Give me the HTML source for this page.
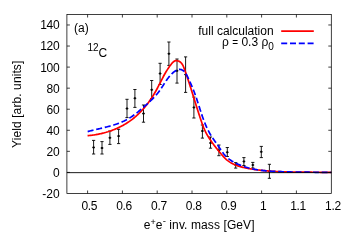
<!DOCTYPE html>
<html><head><meta charset="utf-8"><title>plot</title>
<style>html,body{margin:0;padding:0;background:#fff}body{width:350px;height:245px;position:relative;overflow:hidden;font-family:"Liberation Sans",sans-serif}</style>
</head><body>
<svg width="350" height="245" viewBox="0 0 350 245" style="position:absolute;left:0;top:0;will-change:transform;font-family:'Liberation Sans',sans-serif;font-size:12px" fill="#000">
<path d="M93.6 140.4V154M92.00 140.4h3.2M92.00 154h3.2M92.20 147.4h2.8M102 141.6V154M100.40 141.6h3.2M100.40 154h3.2M100.60 148h2.8M109.9 131V144.4M108.30 131h3.2M108.30 144.4h3.2M108.50 137.8h2.8M118.6 129.3V143.6M117.00 129.3h3.2M117.00 143.6h3.2M117.20 136.1h2.8M127.0 99.3V117.6M125.40 99.3h3.2M125.40 117.6h3.2M125.60 108.6h2.8M134.9 89.5V107.4M133.30 89.5h3.2M133.30 107.4h3.2M133.50 98.3h2.8M143.5 105V122.2M141.90 105h3.2M141.90 122.2h3.2M142.10 113.6h2.8M151.7 80.5V98.6M150.10 80.5h3.2M150.10 98.6h3.2M150.30 89.8h2.8M160.1 63.3V84.5M158.50 63.3h3.2M158.50 84.5h3.2M158.70 73.6h2.8M168.9 42V65.4M167.30 42h3.2M167.30 65.4h3.2M167.50 53.7h2.8M177.0 59.0V83.1M175.40 59.0h3.2M175.40 83.1h3.2M175.60 70.8h2.8M185.6 56.9V92.4M184.00 56.9h3.2M184.00 92.4h3.2M184.20 74.5h2.8M193.9 97.1V118M192.30 97.1h3.2M192.30 118h3.2M192.50 107.4h2.8M202.4 125V138.1M200.80 125h3.2M200.80 138.1h3.2M201.00 131h2.8M210.5 137V148.2M208.90 137h3.2M208.90 148.2h3.2M209.10 143h2.8M218.9 145V155.7M217.30 145h3.2M217.30 155.7h3.2M217.50 150.3h2.8M227.3 147.5V156.5M225.70 147.5h3.2M225.70 156.5h3.2M225.90 152.3h2.8M235.7 162.6V168.1M234.10 162.6h3.2M234.10 168.1h3.2M234.30 165h2.8M243.9 157.6V165.5M242.30 157.6h3.2M242.30 165.5h3.2M242.50 161.4h2.8M252.8 162.4V168M251.20 162.4h3.2M251.20 168h3.2M251.40 165h2.8M261.3 146.4V157.6M259.70 146.4h3.2M259.70 157.6h3.2M259.90 151.8h2.8M269.4 164.3V178.3M267.80 164.3h3.2M267.80 178.3h3.2M268.00 171.4h2.8" stroke="#000" stroke-width="0.9" fill="none"/>
<path d="M93.6 146.40v2.0M102 147.00v2.0M109.9 136.80v2.0M118.6 135.10v2.0M127.0 107.60v2.0M134.9 97.30v2.0M143.5 112.60v2.0M151.7 88.80v2.0M160.1 72.60v2.0M168.9 52.70v2.0M177.0 69.80v2.0M185.6 73.50v2.0M193.9 106.40v2.0M202.4 130.00v2.0M210.5 142.00v2.0M218.9 149.30v2.0M227.3 151.30v2.0M235.7 164.00v2.0M243.9 160.40v2.0M252.8 164.00v2.0M261.3 150.80v2.0M269.4 170.40v2.0" stroke="#000" stroke-width="1.6" fill="none"/>
<path d="M87.56 135.67 L88.42 135.60 L89.28 135.52 L90.14 135.43 L91.00 135.33 L91.86 135.23 L92.71 135.12 L93.57 135.00 L94.43 134.88 L95.28 134.74 L96.13 134.60 L96.98 134.45 L97.84 134.29 L98.68 134.13 L99.53 133.95 L100.38 133.77 L101.22 133.58 L102.06 133.38 L102.90 133.18 L103.74 132.97 L104.57 132.74 L105.41 132.51 L106.24 132.28 L107.06 132.03 L107.89 131.78 L108.71 131.51 L109.53 131.24 L110.35 130.97 L111.16 130.68 L111.97 130.39 L112.77 130.08 L113.58 129.77 L114.38 129.45 L115.17 129.13 L115.96 128.79 L116.75 128.45 L117.53 128.10 L118.31 127.74 L119.09 127.37 L119.86 126.99 L120.63 126.61 L121.39 126.22 L122.15 125.82 L122.90 125.41 L123.65 124.99 L124.39 124.56 L125.13 124.13 L125.86 123.69 L126.59 123.24 L127.31 122.78 L128.03 122.31 L128.74 121.83 L129.45 121.35 L130.15 120.86 L130.84 120.36 L131.53 119.85 L132.21 119.33 L132.89 118.80 L133.56 118.27 L134.22 117.73 L134.88 117.18 L135.53 116.62 L136.17 116.05 L136.81 115.48 L137.45 114.90 L138.07 114.31 L138.70 113.72 L139.31 113.12 L139.92 112.51 L140.52 111.89 L141.12 111.27 L141.71 110.65 L142.30 110.01 L142.87 109.37 L143.45 108.72 L144.02 108.07 L144.58 107.42 L145.13 106.75 L145.68 106.08 L146.22 105.41 L146.76 104.73 L147.29 104.05 L147.82 103.36 L148.34 102.66 L148.85 101.96 L149.36 101.26 L149.86 100.55 L150.36 99.84 L150.85 99.12 L151.33 98.40 L151.81 97.68 L152.28 96.95 L152.75 96.22 L153.21 95.49 L153.66 94.75 L154.11 94.01 L154.55 93.26 L154.99 92.52 L155.42 91.77 L155.85 91.01 L156.27 90.26 L156.68 89.50 L157.09 88.74 L157.49 87.98 L157.89 87.22 L158.29 86.45 L158.69 85.69 L159.08 84.92 L159.47 84.16 L159.86 83.39 L160.25 82.62 L160.64 81.86 L161.02 81.09 L161.41 80.33 L161.80 79.56 L162.20 78.80 L162.59 78.04 L162.99 77.28 L163.39 76.52 L163.79 75.77 L164.20 75.02 L164.62 74.27 L165.04 73.52 L165.46 72.78 L165.89 72.04 L166.33 71.31 L166.78 70.58 L167.23 69.85 L167.69 69.13 L168.17 68.42 L168.65 67.71 L169.14 67.00 L169.64 66.30 L170.15 65.61 L170.68 64.92 L171.22 64.24 L171.76 63.57 L172.33 62.90 L172.91 62.26 L173.53 61.68 L174.21 61.21 L174.95 60.87 L175.78 60.70 L176.65 60.69 L177.52 60.81 L178.36 61.03 L179.12 61.35 L179.82 61.74 L180.46 62.21 L181.04 62.75 L181.57 63.35 L182.05 64.00 L182.49 64.70 L182.90 65.44 L183.27 66.21 L183.62 67.01 L183.95 67.83 L184.27 68.67 L184.57 69.51 L184.87 70.35 L185.17 71.19 L185.47 72.03 L185.76 72.87 L186.05 73.71 L186.34 74.54 L186.62 75.38 L186.91 76.21 L187.19 77.04 L187.47 77.87 L187.74 78.70 L188.02 79.53 L188.29 80.36 L188.56 81.19 L188.83 82.01 L189.10 82.84 L189.37 83.66 L189.63 84.48 L189.90 85.31 L190.16 86.13 L190.42 86.95 L190.68 87.77 L190.94 88.59 L191.20 89.41 L191.46 90.22 L191.71 91.04 L191.97 91.86 L192.22 92.68 L192.48 93.49 L192.73 94.31 L192.99 95.12 L193.24 95.94 L193.49 96.75 L193.74 97.57 L194.00 98.38 L194.25 99.20 L194.50 100.01 L194.75 100.82 L195.01 101.64 L195.26 102.45 L195.51 103.27 L195.77 104.08 L196.02 104.89 L196.28 105.71 L196.53 106.52 L196.79 107.34 L197.05 108.15 L197.30 108.97 L197.56 109.78 L197.82 110.60 L198.08 111.42 L198.35 112.23 L198.61 113.05 L198.87 113.87 L199.14 114.69 L199.41 115.51 L199.68 116.33 L199.95 117.15 L200.22 117.97 L200.50 118.79 L200.77 119.61 L201.05 120.44 L201.33 121.26 L201.62 122.09 L201.90 122.91 L202.19 123.74 L202.49 124.56 L202.79 125.38 L203.10 126.19 L203.42 127.01 L203.74 127.82 L204.08 128.62 L204.42 129.42 L204.78 130.21 L205.15 130.99 L205.52 131.76 L205.91 132.53 L206.31 133.30 L206.72 134.05 L207.14 134.80 L207.57 135.55 L208.01 136.28 L208.45 137.02 L208.91 137.74 L209.37 138.47 L209.84 139.18 L210.31 139.89 L210.79 140.60 L211.28 141.31 L211.77 142.00 L212.26 142.70 L212.76 143.39 L213.27 144.08 L213.78 144.76 L214.29 145.44 L214.81 146.12 L215.33 146.80 L215.85 147.48 L216.38 148.15 L216.91 148.82 L217.45 149.50 L217.99 150.17 L218.53 150.84 L219.08 151.51 L219.63 152.18 L220.19 152.86 L220.75 153.53 L221.31 154.20 L221.88 154.87 L222.45 155.53 L223.04 156.19 L223.63 156.83 L224.23 157.47 L224.84 158.09 L225.46 158.69 L226.10 159.28 L226.74 159.85 L227.40 160.40 L228.07 160.92 L228.76 161.42 L229.46 161.90 L230.17 162.36 L230.89 162.80 L231.63 163.22 L232.38 163.61 L233.14 163.99 L233.90 164.35 L234.68 164.70 L235.47 165.02 L236.26 165.33 L237.06 165.63 L237.87 165.91 L238.69 166.18 L239.51 166.44 L240.34 166.68 L241.17 166.91 L242.01 167.13 L242.85 167.34 L243.69 167.54 L244.54 167.73 L245.39 167.91 L246.24 168.09 L247.10 168.25 L247.95 168.42 L248.81 168.57 L249.66 168.72 L250.52 168.87 L251.37 169.01 L252.23 169.15 L253.08 169.28 L253.93 169.41 L254.79 169.54 L255.64 169.66 L256.50 169.77 L257.35 169.88 L258.21 169.99 L259.06 170.10 L259.92 170.20 L260.77 170.29 L261.63 170.39 L262.48 170.47 L263.33 170.56 L264.19 170.64 L265.05 170.72 L265.90 170.80 L266.76 170.87 L267.61 170.94 L268.47 171.01 L269.32 171.07 L270.18 171.14 L271.04 171.20 L271.89 171.25 L272.75 171.31 L273.61 171.36 L274.47 171.41 L275.32 171.46 L276.18 171.50 L277.04 171.55 L277.90 171.59 L278.76 171.63 L279.62 171.67 L280.48 171.70 L281.34 171.74 L282.20 171.77 L283.06 171.80 L283.92 171.83 L284.78 171.86 L285.64 171.88 L286.50 171.91 L287.36 171.93 L288.22 171.96 L289.08 171.98 L289.94 172.00 L290.81 172.01 L291.67 172.03 L292.53 172.05 L293.39 172.06 L294.25 172.08 L295.12 172.09 L295.98 172.10 L296.84 172.11 L297.70 172.12 L298.57 172.13 L299.43 172.14 L300.29 172.15 L301.15 172.16 L302.02 172.17 L302.88 172.17 L303.74 172.18 L304.60 172.18 L305.47 172.19 L306.33 172.20 L307.19 172.20 L308.05 172.20 L308.92 172.21 L309.78 172.21 L310.64 172.22 L311.50 172.22 L312.36 172.23 L313.23 172.23 L314.09 172.24 L314.95 172.24 L315.81 172.25 L316.67 172.25 L317.53 172.26 L318.39 172.26 L319.26 172.27 L320.12 172.28 L320.98 172.29 L321.84 172.29 L322.70 172.30 L323.56 172.31 L324.42 172.32 L325.28 172.34 L326.14 172.35 L327.00 172.36 L327.85 172.37 L328.71 172.39 L329.57 172.41 L330.43 172.42 L331.29 172.44" stroke="#ff0000" stroke-width="1.7" fill="none" stroke-linejoin="round"/>
<path d="M87.68 131.61 L88.45 131.40 L89.21 131.19 L89.98 130.99 L90.75 130.79 L91.53 130.60 L92.31 130.40 L93.09 130.21 L93.87 130.02 L94.65 129.83 L95.44 129.64 L96.23 129.45 L97.02 129.27 L97.81 129.08 L98.61 128.89 L99.40 128.71 L100.20 128.52 L101.00 128.33 L101.79 128.14 L102.59 127.95 L103.39 127.76 L104.18 127.57 L104.98 127.37 L105.78 127.17 L106.58 126.97 L107.37 126.76 L108.17 126.55 L108.96 126.34 L109.75 126.13 L110.54 125.90 L111.33 125.68 L112.12 125.45 L112.90 125.22 L113.69 124.98 L114.47 124.73 L115.24 124.48 L116.02 124.22 L116.79 123.96 L117.56 123.69 L118.32 123.41 L119.08 123.12 L119.84 122.83 L120.59 122.53 L121.34 122.22 L122.09 121.91 L122.83 121.58 L123.56 121.25 L124.29 120.90 L125.02 120.55 L125.74 120.19 L126.46 119.81 L127.16 119.43 L127.87 119.04 L128.56 118.63 L129.25 118.22 L129.94 117.79 L130.62 117.35 L131.29 116.91 L131.96 116.46 L132.63 116.00 L133.29 115.53 L133.95 115.05 L134.60 114.57 L135.24 114.07 L135.89 113.58 L136.53 113.08 L137.17 112.57 L137.80 112.06 L138.43 111.54 L139.06 111.02 L139.69 110.49 L140.31 109.96 L140.93 109.43 L141.55 108.90 L142.17 108.37 L142.78 107.83 L143.40 107.29 L144.02 106.76 L144.63 106.22 L145.24 105.68 L145.85 105.14 L146.46 104.60 L147.07 104.06 L147.67 103.51 L148.27 102.97 L148.87 102.42 L149.47 101.87 L150.06 101.31 L150.65 100.75 L151.23 100.19 L151.81 99.62 L152.38 99.05 L152.95 98.48 L153.52 97.90 L154.08 97.32 L154.63 96.73 L155.18 96.13 L155.72 95.53 L156.25 94.92 L156.78 94.31 L157.30 93.69 L157.81 93.06 L158.31 92.42 L158.81 91.78 L159.30 91.13 L159.78 90.47 L160.25 89.80 L160.71 89.13 L161.17 88.45 L161.63 87.76 L162.07 87.08 L162.52 86.38 L162.97 85.69 L163.41 84.99 L163.85 84.30 L164.30 83.60 L164.74 82.91 L165.19 82.22 L165.64 81.53 L166.10 80.85 L166.57 80.17 L167.04 79.49 L167.52 78.83 L168.00 78.17 L168.50 77.52 L169.01 76.88 L169.53 76.25 L170.07 75.63 L170.61 75.03 L171.18 74.43 L171.75 73.86 L172.35 73.29 L172.96 72.75 L173.60 72.22 L174.25 71.70 L174.92 71.22 L175.61 70.77 L176.31 70.36 L177.02 70.02 L177.75 69.74 L178.48 69.54 L179.21 69.43 L179.93 69.42 L180.65 69.49 L181.35 69.66 L182.03 69.92 L182.69 70.26 L183.31 70.67 L183.89 71.16 L184.44 71.71 L184.96 72.31 L185.44 72.97 L185.90 73.67 L186.34 74.40 L186.75 75.15 L187.15 75.93 L187.54 76.71 L187.92 77.50 L188.29 78.29 L188.65 79.06 L189.01 79.84 L189.37 80.61 L189.72 81.37 L190.06 82.13 L190.40 82.88 L190.74 83.63 L191.07 84.38 L191.39 85.13 L191.71 85.87 L192.03 86.62 L192.34 87.36 L192.65 88.10 L192.95 88.84 L193.25 89.58 L193.54 90.32 L193.83 91.06 L194.12 91.80 L194.41 92.55 L194.68 93.29 L194.96 94.04 L195.23 94.79 L195.50 95.55 L195.77 96.30 L196.03 97.06 L196.30 97.83 L196.56 98.59 L196.81 99.36 L197.07 100.12 L197.32 100.89 L197.57 101.66 L197.82 102.44 L198.07 103.21 L198.32 103.99 L198.57 104.76 L198.82 105.54 L199.07 106.32 L199.32 107.09 L199.57 107.87 L199.82 108.65 L200.07 109.43 L200.32 110.21 L200.57 110.99 L200.82 111.77 L201.08 112.54 L201.34 113.32 L201.60 114.10 L201.86 114.87 L202.13 115.65 L202.39 116.42 L202.66 117.19 L202.94 117.96 L203.22 118.73 L203.50 119.50 L203.78 120.27 L204.07 121.03 L204.37 121.79 L204.67 122.55 L204.97 123.30 L205.28 124.06 L205.59 124.81 L205.91 125.56 L206.24 126.30 L206.57 127.04 L206.91 127.78 L207.25 128.51 L207.60 129.24 L207.96 129.97 L208.33 130.69 L208.70 131.41 L209.08 132.12 L209.46 132.83 L209.86 133.54 L210.26 134.24 L210.68 134.93 L211.10 135.63 L211.53 136.31 L211.96 136.99 L212.41 137.67 L212.86 138.34 L213.32 139.01 L213.78 139.68 L214.25 140.34 L214.72 141.01 L215.19 141.67 L215.66 142.34 L216.14 143.00 L216.61 143.66 L217.08 144.33 L217.56 145.00 L218.03 145.67 L218.49 146.34 L218.95 147.02 L219.41 147.70 L219.87 148.38 L220.33 149.07 L220.79 149.75 L221.25 150.42 L221.71 151.10 L222.19 151.76 L222.67 152.42 L223.15 153.07 L223.65 153.72 L224.16 154.35 L224.69 154.96 L225.23 155.57 L225.78 156.15 L226.35 156.72 L226.94 157.28 L227.55 157.81 L228.16 158.34 L228.80 158.84 L229.44 159.33 L230.10 159.81 L230.77 160.27 L231.46 160.72 L232.15 161.16 L232.85 161.58 L233.56 161.99 L234.27 162.39 L234.99 162.77 L235.72 163.14 L236.46 163.51 L237.19 163.86 L237.94 164.20 L238.68 164.53 L239.43 164.85 L240.18 165.16 L240.93 165.46 L241.69 165.75 L242.45 166.03 L243.21 166.30 L243.97 166.56 L244.74 166.81 L245.51 167.06 L246.28 167.29 L247.06 167.52 L247.84 167.74 L248.62 167.95 L249.40 168.15 L250.18 168.34 L250.97 168.53 L251.76 168.71 L252.55 168.88 L253.34 169.05 L254.13 169.20 L254.93 169.36 L255.73 169.50 L256.52 169.64 L257.32 169.77 L258.13 169.90 L258.93 170.02 L259.74 170.13 L260.54 170.24 L261.35 170.35 L262.16 170.44 L262.97 170.54 L263.78 170.63 L264.59 170.71 L265.40 170.79 L266.22 170.87 L267.03 170.94 L267.84 171.01 L268.66 171.07 L269.48 171.13 L270.29 171.19 L271.11 171.24 L271.93 171.29 L272.74 171.34 L273.56 171.38 L274.38 171.42 L275.20 171.46 L276.02 171.50 L276.83 171.54 L277.65 171.57 L278.47 171.60 L279.29 171.63 L280.10 171.66 L280.92 171.69 L281.73 171.72 L282.55 171.74 L283.36 171.77 L284.18 171.79 L284.99 171.82 L285.81 171.84 L286.62 171.86 L287.43 171.88 L288.25 171.91 L289.06 171.93 L289.87 171.94 L290.68 171.96 L291.49 171.98 L292.31 172.00 L293.12 172.01 L293.93 172.03 L294.74 172.04 L295.55 172.06 L296.36 172.07 L297.17 172.09 L297.98 172.10 L298.79 172.11 L299.60 172.12 L300.41 172.13 L301.22 172.14 L302.03 172.15 L302.84 172.16 L303.65 172.17 L304.46 172.18 L305.27 172.19 L306.08 172.20 L306.89 172.21 L307.70 172.22 L308.51 172.22 L309.32 172.23 L310.13 172.24 L310.94 172.25 L311.75 172.25 L312.56 172.26 L313.38 172.27 L314.19 172.27 L315.00 172.28 L315.81 172.28 L316.62 172.29 L317.44 172.30 L318.25 172.30 L319.07 172.31 L319.88 172.31 L320.69 172.32 L321.51 172.33 L322.32 172.33 L323.14 172.34 L323.96 172.34 L324.77 172.35 L325.59 172.36 L326.41 172.36 L327.23 172.37 L328.05 172.38 L328.87 172.38 L329.69 172.39 L330.51 172.40 L331.33 172.41" stroke="#0000ff" stroke-width="1.7" fill="none" stroke-dasharray="6 2.8 6 2.8 6 2.8 6 2.8 6 2.8 6 2.8 6 2.8 6 2.8 6 2.8 6 2.8 6 2.8 6 2.8 6 2.8 5.93 2.776 5.93 2.776 5.93 2.776 5.93 2.776 5.93 2.776 5.93 2.776 5.93 2.776 5.93 2.776 5.93 2.776 5.93 2.776 5.93 2.776 5.93 2.776 5.93 2.776 5.93 2.776 5.93 2.776 5.93 2.776 5.93 2.776 5.93 2.776 5.93 2.776 5.93 2.776 5.93 2.776 5.93 2.776 5.93 2.776 5.93 2.776 5.93 2.776 5.93 2.776 5.93 2.776 5.93 2.776 5.93 2.776 5.93 2.776" stroke-linejoin="round"/>
<line x1="66.9" y1="172.65" x2="331.3" y2="172.65" stroke="#000" stroke-width="0.9"/>
<rect x="66.9" y="14.5" width="264.40" height="179.00" fill="none" stroke="#000" stroke-width="0.75"/>
<path d="M87.60 193.5v-3M87.60 14.5v3M122.40 193.5v-3M122.40 14.5v3M157.20 193.5v-3M157.20 14.5v3M192.00 193.5v-3M192.00 14.5v3M226.80 193.5v-3M226.80 14.5v3M261.60 193.5v-3M261.60 14.5v3M296.40 193.5v-3M296.40 14.5v3M66.9 172.40h3M331.3 172.40h-3M66.9 151.34h3M331.3 151.34h-3M66.9 130.28h3M331.3 130.28h-3M66.9 109.22h3M331.3 109.22h-3M66.9 88.16h3M331.3 88.16h-3M66.9 67.10h3M331.3 67.10h-3M66.9 46.04h3M331.3 46.04h-3M66.9 24.98h3M331.3 24.98h-3" stroke="#000" stroke-width="0.75" fill="none"/>
<text x="59.6" y="197.86" text-anchor="end">-20</text>
<text x="59.3" y="176.80" text-anchor="end" letter-spacing="-0.33">0</text>
<text x="59.3" y="155.74" text-anchor="end" letter-spacing="-0.33">20</text>
<text x="59.3" y="134.68" text-anchor="end" letter-spacing="-0.33">40</text>
<text x="59.3" y="113.62" text-anchor="end" letter-spacing="-0.33">60</text>
<text x="59.3" y="92.56" text-anchor="end" letter-spacing="-0.33">80</text>
<text x="59.3" y="71.50" text-anchor="end" letter-spacing="-0.33">100</text>
<text x="59.3" y="50.44" text-anchor="end" letter-spacing="-0.33">120</text>
<text x="59.3" y="29.38" text-anchor="end" letter-spacing="-0.33">140</text>
<text x="89.30" y="210" text-anchor="middle" letter-spacing="-0.33">0.5</text>
<text x="124.10" y="210" text-anchor="middle" letter-spacing="-0.33">0.6</text>
<text x="158.90" y="210" text-anchor="middle" letter-spacing="-0.33">0.7</text>
<text x="193.70" y="210" text-anchor="middle" letter-spacing="-0.33">0.8</text>
<text x="228.50" y="210" text-anchor="middle" letter-spacing="-0.33">0.9</text>
<text x="263.30" y="210" text-anchor="middle" letter-spacing="-0.33">1</text>
<text x="298.10" y="210" text-anchor="middle" letter-spacing="-0.33">1.1</text>
<text x="332.90" y="210" text-anchor="middle" letter-spacing="-0.33">1.2</text>
<text transform="translate(21 104.3) rotate(-90)" text-anchor="middle" letter-spacing="0.1">Yield [arb. units]</text>
<text x="199.2" y="229" text-anchor="middle" letter-spacing="0.1">e<tspan font-size="9" dy="-3.9">+</tspan><tspan dy="3.9">e</tspan><tspan font-size="9.6" dy="-5">-</tspan><tspan dy="5"> inv. mass [GeV]</tspan></text>
<text x="273.6" y="35" text-anchor="end">full calculation</text>
<text x="273.8" y="46.2" text-anchor="end">ρ <tspan font-size="10">=</tspan> 0.3 ρ<tspan font-size="10" dy="3.6">0</tspan></text>
<line x1="281.2" y1="31.2" x2="313.8" y2="31.2" stroke="#ff0000" stroke-width="1.7"/>
<line x1="281.2" y1="43.4" x2="313.8" y2="43.4" stroke="#0000ff" stroke-width="1.7" stroke-dasharray="6 2.8"/>
<text x="74" y="31.7">(a)</text>
<text x="87.4" y="57"><tspan font-size="10" dy="-5.8">12</tspan><tspan dy="5.8">C</tspan></text>
</svg>
</body></html>
